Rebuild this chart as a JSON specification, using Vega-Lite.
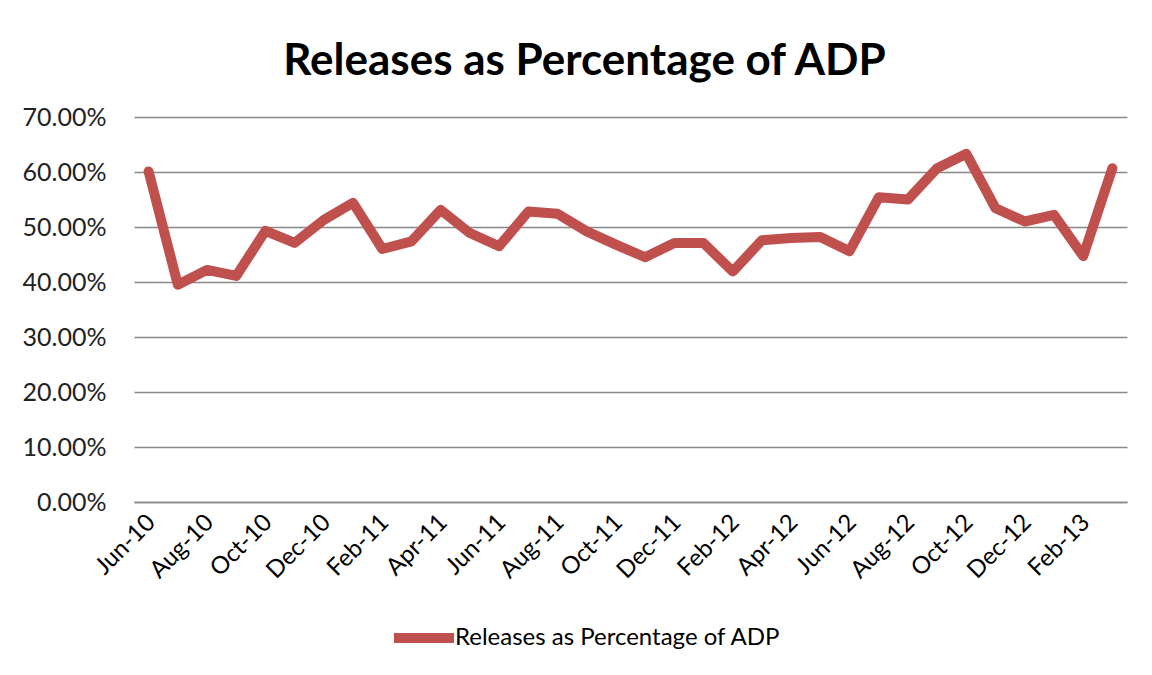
{
  "$schema": "https://vega.github.io/schema/vega-lite/v6.json",
  "autosize": {"type": "none"},
  "width": 993,
  "height": 385,
  "padding": {"left": 134, "top": 117, "right": 25, "bottom": 173},
  "background": "#ffffff",
  "title": {
    "text": "Releases as Percentage of ADP",
    "font": "Lato",
    "fontSize": 44,
    "fontWeight": "bold",
    "color": "#000000",
    "anchor": "middle",
    "frame": "group",
    "baseline": "alphabetic",
    "offset": 42,
    "dx": -46,
    "dy": 56
  },
  "data": {
    "values": [
      {"month": "Jun-10", "pct": 0.601, "series": "Releases as Percentage of ADP"},
      {"month": "Jul-10", "pct": 0.395, "series": "Releases as Percentage of ADP"},
      {"month": "Aug-10", "pct": 0.422, "series": "Releases as Percentage of ADP"},
      {"month": "Sep-10", "pct": 0.411, "series": "Releases as Percentage of ADP"},
      {"month": "Oct-10", "pct": 0.493, "series": "Releases as Percentage of ADP"},
      {"month": "Nov-10", "pct": 0.471, "series": "Releases as Percentage of ADP"},
      {"month": "Dec-10", "pct": 0.513, "series": "Releases as Percentage of ADP"},
      {"month": "Jan-11", "pct": 0.544, "series": "Releases as Percentage of ADP"},
      {"month": "Feb-11", "pct": 0.460, "series": "Releases as Percentage of ADP"},
      {"month": "Mar-11", "pct": 0.474, "series": "Releases as Percentage of ADP"},
      {"month": "Apr-11", "pct": 0.531, "series": "Releases as Percentage of ADP"},
      {"month": "May-11", "pct": 0.489, "series": "Releases as Percentage of ADP"},
      {"month": "Jun-11", "pct": 0.465, "series": "Releases as Percentage of ADP"},
      {"month": "Jul-11", "pct": 0.528, "series": "Releases as Percentage of ADP"},
      {"month": "Aug-11", "pct": 0.524, "series": "Releases as Percentage of ADP"},
      {"month": "Sep-11", "pct": 0.492, "series": "Releases as Percentage of ADP"},
      {"month": "Oct-11", "pct": 0.468, "series": "Releases as Percentage of ADP"},
      {"month": "Nov-11", "pct": 0.445, "series": "Releases as Percentage of ADP"},
      {"month": "Dec-11", "pct": 0.471, "series": "Releases as Percentage of ADP"},
      {"month": "Jan-12", "pct": 0.471, "series": "Releases as Percentage of ADP"},
      {"month": "Feb-12", "pct": 0.419, "series": "Releases as Percentage of ADP"},
      {"month": "Mar-12", "pct": 0.476, "series": "Releases as Percentage of ADP"},
      {"month": "Apr-12", "pct": 0.480, "series": "Releases as Percentage of ADP"},
      {"month": "May-12", "pct": 0.482, "series": "Releases as Percentage of ADP"},
      {"month": "Jun-12", "pct": 0.456, "series": "Releases as Percentage of ADP"},
      {"month": "Jul-12", "pct": 0.554, "series": "Releases as Percentage of ADP"},
      {"month": "Aug-12", "pct": 0.550, "series": "Releases as Percentage of ADP"},
      {"month": "Sep-12", "pct": 0.607, "series": "Releases as Percentage of ADP"},
      {"month": "Oct-12", "pct": 0.633, "series": "Releases as Percentage of ADP"},
      {"month": "Nov-12", "pct": 0.534, "series": "Releases as Percentage of ADP"},
      {"month": "Dec-12", "pct": 0.510, "series": "Releases as Percentage of ADP"},
      {"month": "Jan-13", "pct": 0.522, "series": "Releases as Percentage of ADP"},
      {"month": "Feb-13", "pct": 0.447, "series": "Releases as Percentage of ADP"},
      {"month": "Mar-13", "pct": 0.607, "series": "Releases as Percentage of ADP"}
    ]
  },
  "mark": {"type": "line", "strokeWidth": 10, "strokeCap": "round", "strokeJoin": "round"},
  "encoding": {
    "x": {
      "field": "month",
      "type": "ordinal",
      "sort": null,
      "scale": {"type": "point", "padding": 0.5},
      "axis": {
        "title": null,
        "values": ["Jun-10", "Aug-10", "Oct-10", "Dec-10", "Feb-11", "Apr-11", "Jun-11", "Aug-11", "Oct-11", "Dec-11", "Feb-12", "Apr-12", "Jun-12", "Aug-12", "Oct-12", "Dec-12", "Feb-13"],
        "labelAngle": -45,
        "labelAlign": "right",
        "labelBaseline": "top",
        "labelPadding": 8,
        "labelOffset": -6,
        "labelFont": "Lato",
        "labelFontSize": 24,
        "labelColor": "#000000",
        "labelOverlap": false,
        "ticks": false,
        "domain": true,
        "domainColor": "#888888",
        "domainWidth": 1.5,
        "grid": false
      }
    },
    "y": {
      "field": "pct",
      "type": "quantitative",
      "scale": {"domain": [0, 0.7], "nice": false},
      "axis": {
        "title": null,
        "values": [0, 0.1, 0.2, 0.3, 0.4, 0.5, 0.6, 0.7],
        "format": ".2%",
        "labelFont": "Lato",
        "labelFontSize": 25,
        "labelColor": "#222222",
        "labelPadding": 28,
        "ticks": false,
        "domain": false,
        "grid": true,
        "gridColor": "#888888",
        "gridWidth": 1.5
      }
    },
    "color": {
      "field": "series",
      "type": "nominal",
      "scale": {"range": ["#C0504D"]},
      "legend": {
        "title": null,
        "orient": "none",
        "legendX": 255,
        "legendY": 486,
        "symbolType": "stroke",
        "symbolSize": 3600,
        "symbolStrokeWidth": 10,
        "labelFont": "Lato",
        "labelFontSize": 24,
        "labelColor": "#000000",
        "labelOffset": -4,
        "labelLimit": 600
      }
    }
  },
  "config": {"view": {"stroke": null}}
}
